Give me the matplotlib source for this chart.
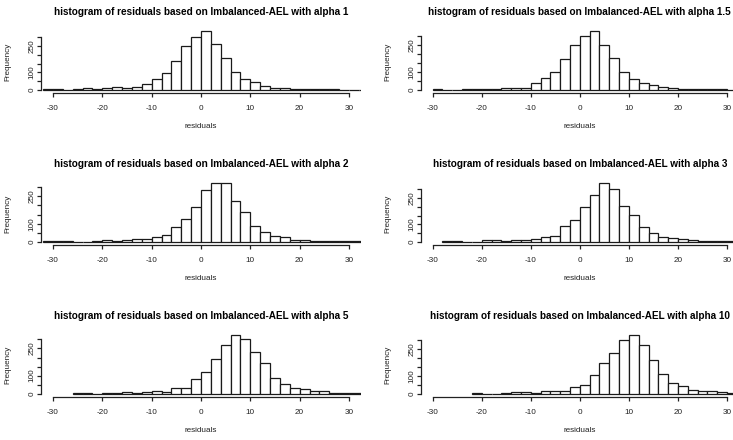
import numpy as np
import matplotlib
matplotlib.use("Agg")
import matplotlib.pyplot as plt

plt.rcParams['font.family'] = ['Liberation Sans', 'DejaVu Sans']

BIN_WIDTH = 2
alphas = ["1", "1.5", "2", "3", "5", "10"]

# first break of each histogram (breaks every 2 units)
starts = [-32, -30, -32, -28, -26, -22]

counts_a1 = [3, 3, 0, 3, 11, 4, 11, 15, 11, 15, 32, 61, 99, 165, 249, 300,
             333, 262, 181, 101, 61, 44, 25, 10, 10, 3, 3, 3, 3, 7, 0, 0, 0]
counts_a15 = [4, 1, 1, 4, 8, 4, 8, 13, 13, 13, 38, 66, 100, 174, 251, 302,
              326, 251, 179, 98, 62, 40, 26, 15, 9, 3, 3, 3, 3, 8, 0, 0]
counts_a2 = [3, 3, 3, 1, 1, 3, 10, 4, 12, 17, 17, 29, 38, 82, 127, 189,
             285, 320, 320, 224, 165, 87, 53, 33, 25, 9, 13, 3, 3, 3, 3, 3, 3]
counts_a3 = [3, 3, 1, 1, 9, 13, 4, 11, 11, 17, 27, 34, 91, 123, 199, 268,
             334, 302, 207, 156, 87, 49, 28, 21, 15, 9, 3, 3, 3, 3, 3]
counts_a5 = [3, 3, 1, 3, 3, 7, 3, 12, 17, 12, 29, 29, 79, 121, 193, 272,
             324, 302, 230, 167, 85, 53, 29, 24, 13, 13, 3, 3, 3, 3]
counts_a10 = [4, 1, 1, 4, 7, 7, 4, 17, 13, 17, 36, 47, 103, 172, 228, 297,
              327, 271, 187, 110, 58, 43, 21, 17, 13, 7, 4, 4]

all_counts = [counts_a1, counts_a15, counts_a2, counts_a3, counts_a5, counts_a10]

xticks = [-30, -20, -10, 0, 10, 20, 30]
yticks = [0, 50, 100, 150, 200, 250, 300]
ytick_labels = ["0", "", "100", "", "", "250", ""]

W, H = 733, 440
fig = plt.figure(figsize=(W / 100, H / 100), dpi=100)

col_x = [(41.2, 319.6), (420.9, 317.9)]
row_zero = [90.0, 242.0, 393.7]
K = 58.6          # pixels from zero line to the tallest bar
LOWER = 3.3 / K
UPPER = 1.04

axis_color = "#222222"
fs_axis = 5.85
fs_title = 7.2

for i, (alpha, start, counts) in enumerate(zip(alphas, starts, all_counts)):
    r, c = divmod(i, 2)
    x0, w = col_x[c]
    y0 = row_zero[r]
    bottom_px = y0 + LOWER * K
    top_px = y0 - UPPER * K
    ax = fig.add_axes([x0 / W, 1 - bottom_px / H, w / W, (bottom_px - top_px) / H])
    counts = np.array(counts, dtype=float)
    lefts = start + BIN_WIDTH * np.arange(len(counts))
    ax.bar(lefts, counts, width=BIN_WIDTH, align='edge', color='white',
           edgecolor='#1a1a1a', linewidth=0.9)
    M = counts.max()
    ax.set_xlim(-32.4, 32.4)
    ax.set_ylim(-LOWER * M, UPPER * M)
    ax.patch.set_alpha(0)
    for s in ['top', 'right']:
        ax.spines[s].set_visible(False)
    ax.spines['left'].set_bounds(0, 300)
    ax.spines['bottom'].set_bounds(-30, 30)
    for s in ['left', 'bottom']:
        ax.spines[s].set_color(axis_color)
        ax.spines[s].set_linewidth(0.9)
    ax.set_xticks(xticks)
    ax.set_xticklabels([str(t) for t in xticks], fontsize=fs_axis, color=axis_color)
    ax.set_yticks(yticks)
    ax.set_yticklabels(ytick_labels, fontsize=fs_axis, color=axis_color,
                       rotation=90, va='center')
    ax.tick_params(axis='both', direction='out', length=2.9, width=0.9,
                   color=axis_color)
    ax.tick_params(axis='x', pad=5.5)
    ax.tick_params(axis='y', pad=1.2)

    cx = x0 + w / 2
    fig.text(cx / W, 1 - (y0 - 77.7) / H,
             "histogram of residuals based on Imbalanced-AEL with alpha " + alpha,
             fontsize=fs_title, fontweight='bold', ha='center', va='center',
             color='black')
    fig.text(cx / W, 1 - (y0 + 36.7) / H, "residuals", fontsize=fs_axis,
             ha='center', va='center', color=axis_color)
    fig.text((x0 - 33.5) / W, 1 - (y0 - 28.5) / H, "Frequency", fontsize=fs_axis,
             rotation=90, ha='center', va='center', color=axis_color)

fig.savefig("out.png", dpi=100)
